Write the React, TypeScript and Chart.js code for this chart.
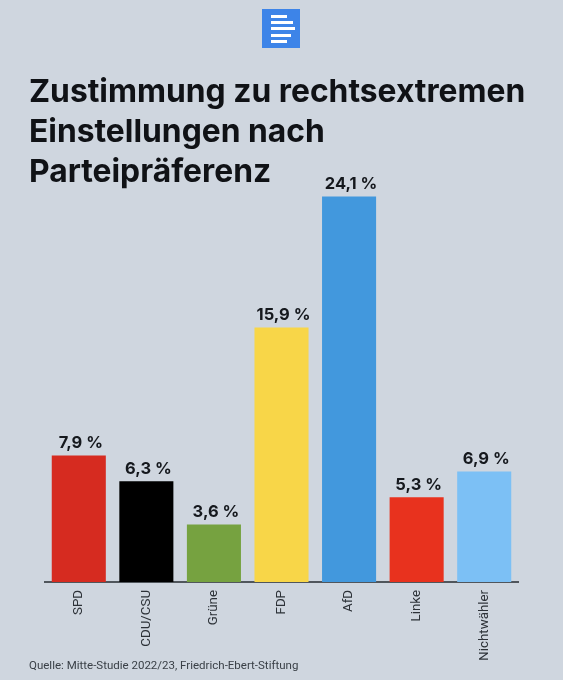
import { useEffect, useRef } from "react";
import { Chart, registerables } from "chart.js";

Chart.register(...registerables);

const parties = ["SPD", "CDU/CSU", "Grüne", "FDP", "AfD", "Linke", "Nichtwähler"];
const shares = [7.9, 6.3, 3.6, 15.9, 24.1, 5.3, 6.9];
const barColors = ["#d62b20", "#000000", "#76a240", "#f8d648", "#4298dd", "#e8321e", "#7cc0f5"];
const titleLines = ["Zustimmung zu rechtsextremen", "Einstellungen nach", "Parteipräferenz"];
const sourceText = "Quelle: Mitte-Studie 2022/23, Friedrich-Ebert-Stiftung";

// Prozentwerte über die Balken schreiben
const valueLabels = {
  id: "valueLabels",
  afterDatasetsDraw(chart: Chart) {
    const ctx = chart.ctx;
    ctx.save();
    ctx.font = "700 16.5px Inter";
    ctx.fillStyle = "#15181d";
    ctx.textAlign = "center";
    ctx.textBaseline = "bottom";
    chart.getDatasetMeta(0).data.forEach((bar, i) => {
      const text = shares[i].toFixed(1).replace(".", ",") + " %";
      ctx.fillText(text, bar.x + 2, bar.y - 4);
    });
    ctx.restore();
  },
};

export default function App() {
  const canvasRef = useRef<HTMLCanvasElement>(null);

  useEffect(() => {
    document.body.style.margin = "0";
    if (!canvasRef.current) return;

    const chart = new Chart(canvasRef.current, {
      type: "bar",
      data: {
        labels: parties,
        datasets: [
          {
            data: shares,
            backgroundColor: barColors,
            barPercentage: 1,
            categoryPercentage: 0.8,
          },
        ],
      },
      options: {
        responsive: false,
        animation: false,
        layout: { padding: { left: 45, right: 45, top: 102, bottom: 0 } },
        plugins: { legend: { display: false }, tooltip: { enabled: false } },
        scales: {
          y: { display: false, min: 0, max: 30 },
          x: {
            afterFit: (scale) => {
              scale.height = 98;
            },
            border: { display: true, color: "#50565c", width: 2 },
            grid: { display: false },
            ticks: {
              autoSkip: false,
              minRotation: 90,
              maxRotation: 90,
              padding: 0,
              color: "#2d3238",
              font: { family: "Roboto", size: 13.3 },
            },
          },
        },
      },
      plugins: [valueLabels],
    });

    return () => chart.destroy();
  }, []);

  return (
    <div style={{ position: "relative", width: 563, height: 680, background: "#cfd6df", overflow: "hidden" }}>
      <canvas ref={canvasRef} width={563} height={680} style={{ position: "absolute", left: 0, top: 0 }} />

      {/* Logo */}
      <div style={{ position: "absolute", left: 262, top: 9, width: 38, height: 39, background: "#3d84e8" }}>
        {[
          [9, 6, 16],
          [9, 12, 22],
          [9, 18, 24],
          [9, 25, 20],
          [9, 31, 16],
        ].map(([left, top, width]) => (
          <div key={top} style={{ position: "absolute", left, top, width, height: 3, background: "#fff" }} />
        ))}
      </div>

      <div
        style={{
          position: "absolute",
          left: 29,
          top: 71,
          fontFamily: "Inter",
          fontWeight: 700,
          fontSize: 31.8,
          lineHeight: "40px",
          color: "#101216",
          whiteSpace: "nowrap",
        }}
      >
        {titleLines.map((line) => (
          <div key={line}>{line}</div>
        ))}
      </div>

      <div
        style={{
          position: "absolute",
          left: 29,
          top: 658,
          fontFamily: "Roboto",
          fontSize: 11.5,
          color: "#3a4047",
          whiteSpace: "nowrap",
        }}
      >
        {sourceText}
      </div>
    </div>
  );
}
